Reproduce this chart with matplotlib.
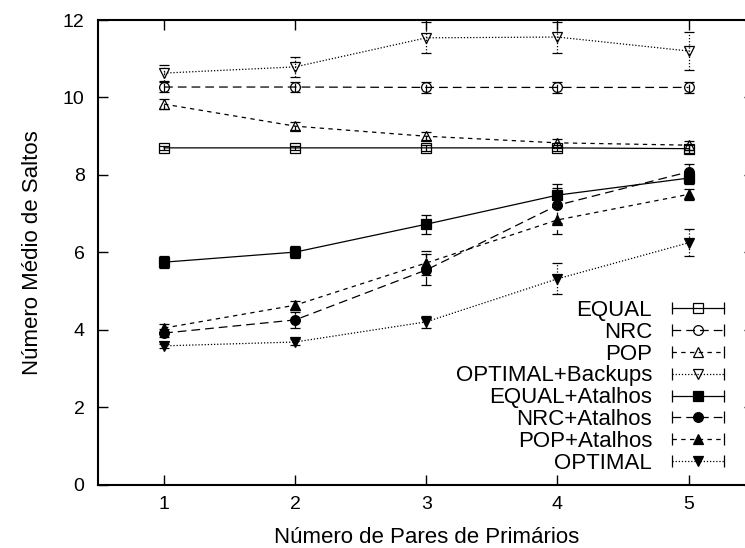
import numpy as np
import matplotlib
matplotlib.use("Agg")
import matplotlib.pyplot as plt
from matplotlib.lines import Line2D
from matplotlib.legend_handler import HandlerLine2D

plt.rcParams['font.family'] = ['Liberation Sans', 'DejaVu Sans']

pares = [1, 2, 3, 4, 5]

equal = [8.70, 8.70, 8.70, 8.70, 8.68]
equal_err = [0.05, 0.05, 0.08, 0.08, 0.10]
nrc = [10.27, 10.27, 10.26, 10.26, 10.26]
nrc_err = [0.12, 0.12, 0.15, 0.15, 0.15]
pop = [9.83, 9.26, 9.00, 8.83, 8.77]
pop_err = [0.12, 0.10, 0.10, 0.10, 0.12]
opt_backups = [10.63, 10.79, 11.54, 11.56, 11.20]
opt_backups_err = [0.20, 0.25, 0.40, 0.40, 0.50]
equal_at = [5.75, 6.01, 6.73, 7.48, 7.92]
equal_at_err = [0.15, 0.15, 0.25, 0.28, 0.15]
nrc_at = [3.92, 4.26, 5.55, 7.22, 8.08]
nrc_at_err = [0.10, 0.20, 0.40, 0.45, 0.20]
pop_at = [4.05, 4.64, 5.73, 6.84, 7.50]
pop_at_err = [0.10, 0.12, 0.30, 0.35, 0.15]
optimal = [3.59, 3.69, 4.21, 5.32, 6.25]
optimal_err = [0.05, 0.08, 0.15, 0.40, 0.35]

labels = ["EQUAL", "NRC", "POP", "OPTIMAL+Backups",
          "EQUAL+Atalhos", "NRC+Atalhos", "POP+Atalhos", "OPTIMAL"]
series = [equal, nrc, pop, opt_backups, equal_at, nrc_at, pop_at, optimal]
errors = [equal_err, nrc_err, pop_err, opt_backups_err,
          equal_at_err, nrc_at_err, pop_at_err, optimal_err]

long_dash = (0, (7, 4))
short_dash = (0, (3.5, 3.5))
dotted = (0, (1, 1.5))
styles = [
    ('-', 's', 'none'),
    (long_dash, 'o', 'none'),
    (short_dash, '^', 'none'),
    (dotted, 'v', 'none'),
    ('-', 's', 'black'),
    (long_dash, 'o', 'black'),
    (short_dash, '^', 'black'),
    (dotted, 'v', 'black'),
]

fig = plt.figure(figsize=(7.45, 5.48), dpi=100)
ax = fig.add_axes([0.1322, 0.115, 0.880, 0.8485])

handles = []
hmap = {}
for vals, err, lab, (ls, mk, fc) in zip(series, errors, labels, styles):
    cont = ax.errorbar(pares, vals, yerr=err, color='black', lw=0.9, ls=ls,
                       marker=mk, markersize=7, markerfacecolor=fc,
                       markeredgecolor='black', markeredgewidth=0.9,
                       capsize=3.5, capthick=0.9, elinewidth=0.9)
    for bar in cont[2]:
        bar.set_linestyle(ls)
    # legend sample: horizontal line with end ticks, marker in the middle
    capline = Line2D([], [], color='black', lw=0.9, ls=ls, marker='|',
                     markersize=8, markeredgewidth=0.9)
    mark = Line2D([], [], ls='none', marker=mk, markersize=7,
                  markerfacecolor=fc, markeredgecolor='black',
                  markeredgewidth=0.9)
    hmap[capline] = HandlerLine2D(numpoints=2)
    hmap[mark] = HandlerLine2D(numpoints=1)
    handles.append((capline, mark))

ax.set_xlim(0.5, 5.5)
ax.set_ylim(0, 12)
ax.set_xticks(pares)
ax.set_yticks(np.arange(0, 13, 2))
ax.tick_params(direction='in', length=7, width=1, top=True, right=True,
               labelsize=14)
ax.tick_params(axis='y', pad=10)
ax.tick_params(axis='x', pad=8)
for sp in ax.spines.values():
    sp.set_linewidth(1.5)

ax.set_xlabel("Número de Pares de Primários", fontsize=16, labelpad=10)
ax.set_ylabel("Número Médio de Saltos", fontsize=16, labelpad=14)

leg = ax.legend(handles, labels, handler_map=hmap, loc='lower right',
                bbox_to_anchor=(731 / 745, 1 - 474 / 548),
                bbox_transform=fig.transFigure, frameon=False,
                markerfirst=False, fontsize=16, handlelength=2.95,
                handletextpad=0.6, labelspacing=0.04, borderpad=0,
                borderaxespad=0)

fig.savefig("out.png", dpi=100)
